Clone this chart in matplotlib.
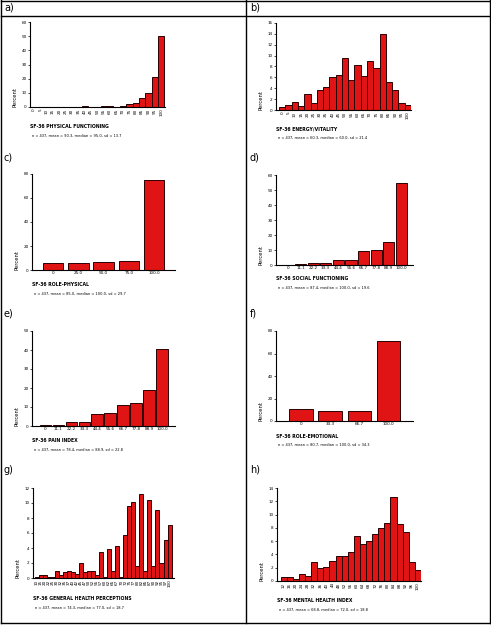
import matplotlib
matplotlib.use("Agg")
import matplotlib.pyplot as plt
from matplotlib.lines import Line2D

W, H = 491, 644

# ---- data (percent per score) ----
pf_labels = ["0", "5", "10", "15", "20", "25", "30", "35", "40", "45", "50",
             "55", "60", "65", "70", "75", "80", "85", "90", "95", "100"]
pf_values = [0.1, 0.1, 0.1, 0.1, 0.1, 0.1, 0.1, 0.1, 0.5, 0.1, 0.3,
             0.4, 1.0, 0.3, 1.0, 2.0, 2.9, 6.4, 10.0, 21.4, 50.0]

vt_labels = ["0", "5", "10", "15", "20", "25", "30", "35", "40", "45", "50",
             "55", "60", "65", "70", "75", "80", "85", "90", "95", "100"]
vt_values = [0.55, 1.0, 1.4, 0.7, 3.0, 1.2, 3.7, 4.3, 6.0, 6.5, 9.6,
             5.5, 8.2, 6.3, 9.1, 7.8, 13.9, 5.1, 3.7, 1.2, 0.85]

rp_labels = ["0", "25.0", "50.0", "75.0", "100.0"]
rp_values = [5.6, 5.6, 6.4, 7.2, 75.0]

sf_labels = ["0", "11.1", "22.2", "33.3", "44.4", "55.6", "66.7", "77.8", "88.9", "100.0"]
sf_values = [0.0, 0.7, 1.1, 1.1, 3.3, 3.3, 9.3, 10.0, 15.3, 54.4]

bp_labels = ["0", "11.1", "22.2", "33.3", "44.4", "55.6", "66.7", "77.8", "88.9", "100.0"]
bp_values = [0.5, 0.5, 1.9, 1.9, 6.1, 6.6, 10.8, 11.9, 18.9, 40.7]

re_labels = ["0", "33.3", "66.7", "100.0"]
re_values = [10.6, 8.8, 8.8, 70.8]

gh_labels = ["10", "15", "20", "22", "25", "30", "32", "35", "37", "40", "42", "45",
             "47", "50", "52", "55", "57", "60", "62", "65", "67", "70", "72", "75",
             "77", "80", "82", "85", "87", "90", "92", "95", "97", "100"]
gh_values = [0.1, 0.4, 0.4, 0.1, 0.1, 0.9, 0.4, 0.8, 0.9, 0.8, 0.5, 2.0,
             0.8, 0.9, 0.9, 0.4, 3.5, 0.1, 3.9, 0.9, 4.3, 0.1, 5.8, 9.6,
             10.1, 1.6, 11.2, 0.9, 10.4, 1.6, 9.1, 2.0, 5.1, 7.1]

mh_labels = ["12", "16", "20", "24", "28", "32", "36", "40", "44", "48", "52", "56",
             "60", "64", "68", "72", "76", "80", "84", "88", "92", "96", "100"]
mh_values = [0.65, 0.65, 0.3, 1.1, 0.8, 2.8, 1.9, 2.1, 3.0, 3.8, 3.8, 4.3,
             6.8, 5.6, 6.0, 7.1, 8.0, 8.8, 12.7, 8.6, 7.4, 2.8, 1.6]

titles = ["SF-36 PHYSICAL FUNCTIONING", "SF-36 ENERGY/VITALITY",
          "SF-36 ROLE-PHYSICAL", "SF-36 SOCIAL FUNCTIONING",
          "SF-36 PAIN INDEX", "SF-36 ROLE-EMOTIONAL",
          "SF-36 GENERAL HEALTH PERCEPTIONS", "SF-36 MENTAL HEALTH INDEX"]
stats = ["n = 437, mean = 90.3, median = 95.0, sd = 13.7",
         "n = 437, mean = 60.3, median = 60.0, sd = 21.4",
         "n = 437, mean = 85.0, median = 100.0, sd = 29.7",
         "n = 437, mean = 87.4, median = 100.0, sd = 19.6",
         "n = 437, mean = 78.4, median = 88.9, sd = 22.8",
         "n = 437, mean = 80.7, median = 100.0, sd = 34.3",
         "n = 437, mean = 74.3, median = 77.0, sd = 18.7",
         "n = 437, mean = 68.8, median = 72.0, sd = 18.8"]
panel_tags = ["a)", "b)", "c)", "d)", "e)", "f)", "g)", "h)"]
tag_pos = [(4, 8), (250, 8), (4, 157), (250, 157), (4, 313), (250, 313), (4, 470), (250, 470)]


def px_rect(x0, y0, x1, y1):
    return [x0 / W, 1 - y1 / H, (x1 - x0) / W, (y1 - y0) / H]


def fig_line(fig, x0, y0, x1, y1):
    fig.add_artist(Line2D([x0 / W, x1 / W], [1 - y0 / H, 1 - y1 / H],
                          transform=fig.transFigure, color="black", lw=1.0))


def draw_hist(fig, rect, labels, values, ymax, ystep, xlim, width, rot, title, stat, title_y):
    ax = fig.add_axes(px_rect(*rect))
    pos = list(range(len(values)))
    ax.bar(pos, values, width=width, color="#e01414", edgecolor="#2a0000", linewidth=0.7)
    ax.set_xlim(*xlim)
    ax.set_ylim(0, ymax)
    ax.set_yticks(list(range(0, ymax + 1, ystep)))
    ax.set_xticks(pos)
    ax.set_xticklabels(labels, rotation=rot)
    ax.tick_params(axis="both", labelsize=3, length=1.5, width=0.5, pad=1)
    ax.tick_params(axis="x", length=0)
    for s in ["top", "right"]:
        ax.spines[s].set_visible(False)
    for s in ["left", "bottom"]:
        ax.spines[s].set_linewidth(0.8)
    ax.set_ylabel("Percent", fontsize=3.8, loc="bottom", labelpad=3)
    x0 = rect[0]
    fig.text(x0 / W, 1 - title_y / H, title, fontsize=3.3, fontweight="bold", va="center")
    fig.text((x0 + 2) / W, 1 - (title_y + 9) / H, stat, fontsize=2.6, va="center")
    return ax


fig = plt.figure(figsize=(W / 100, H / 100), dpi=100)

# frame of the table
fig_line(fig, 1, 0.5, 490, 0.5)
fig_line(fig, 1, 15.5, 490, 15.5)
fig_line(fig, 1, 622.5, 490, 622.5)
fig_line(fig, 1, 0, 1, 623)
fig_line(fig, 490, 0, 490, 623)
fig_line(fig, 245.5, 0, 245.5, 623)

for tag, (tx, ty) in zip(panel_tags, tag_pos):
    fig.text(tx / W, 1 - ty / H, tag, fontsize=7, va="center")

draw_hist(fig, (30, 22, 165, 107), pf_labels, pf_values, 60, 10, (-0.6, 20.6), 1.0, 90,
          titles[0], stats[0], 127)
draw_hist(fig, (276, 23, 411, 110), vt_labels, vt_values, 16, 2, (-1.0, 20.5), 1.0, 90,
          titles[1], stats[1], 129)
draw_hist(fig, (32, 174, 175, 270), rp_labels, rp_values, 80, 20, (-0.83, 4.82), 0.81, 0,
          titles[2], stats[2], 285)
draw_hist(fig, (276, 175, 413, 265), sf_labels, sf_values, 60, 10, (-0.95, 9.92), 0.9, 0,
          titles[3], stats[3], 279)
draw_hist(fig, (32, 331, 175, 426), bp_labels, bp_values, 50, 10, (-1.04, 10.0), 0.9, 0,
          titles[4], stats[4], 441)
draw_hist(fig, (276, 331, 413, 421), re_labels, re_values, 80, 20, (-0.85, 3.83), 0.8, 0,
          titles[5], stats[5], 436)
draw_hist(fig, (33, 488, 174, 578), gh_labels, gh_values, 12, 2, (-0.9, 34.1), 1.0, 90,
          titles[6], stats[6], 599)
draw_hist(fig, (277, 488, 421, 581), mh_labels, mh_values, 14, 2, (-1.1, 22.5), 1.0, 90,
          titles[7], stats[7], 601)

fig.savefig("out.png", dpi=100)
